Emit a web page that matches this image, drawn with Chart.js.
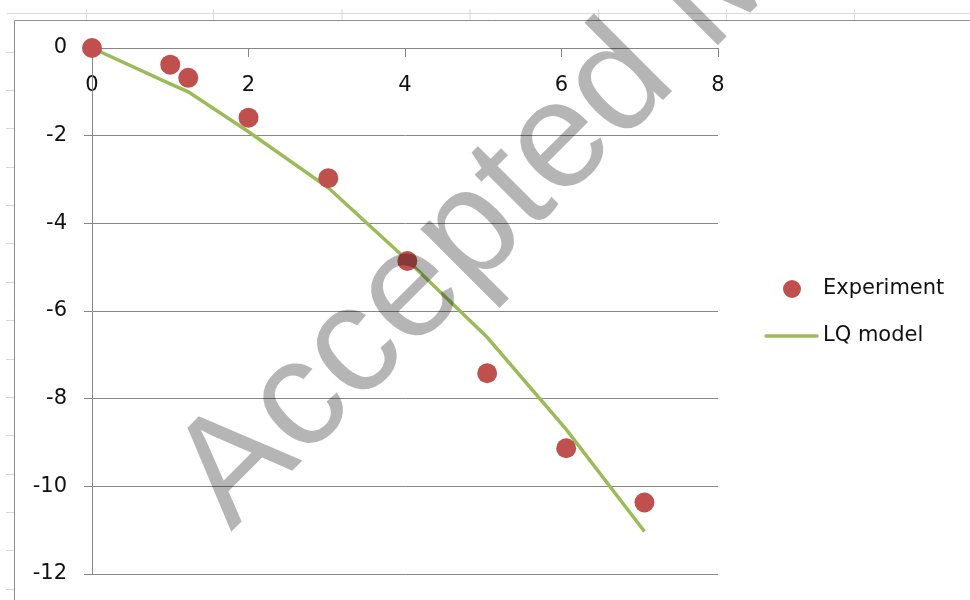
<!DOCTYPE html>
<html>
<head>
<meta charset="utf-8">
<script src="https://cdn.jsdelivr.net/npm/chart.js@4"></script>
<style>
  html, body { margin: 0; padding: 0; background: #fff; }
  #wrap { width: 970px; height: 600px; }
</style>
</head>
<body>
<div id="wrap"><canvas id="chart" width="970" height="600"></canvas></div>
<script>
// --- Data ---
const expX   = [0, 1.0, 1.23, 2.0, 3.02, 4.03, 5.05, 6.06, 7.06];
const expY   = [0, -0.38, -0.68, -1.59, -2.97, -4.86, -7.42, -9.13, -10.37];
const modelX = [0, 1.0, 1.23, 2.0, 3.02, 4.03, 5.05, 6.06, 7.06];
const modelY = [0, -0.82, -1.0, -1.91, -3.19, -4.84, -6.6, -8.7, -11.03];
const seriesNames = ['Experiment', 'LQ model'];
const xTicks = [0, 2, 4, 6, 8];
const yTicks = [0, -2, -4, -6, -8, -10, -12];

const RED = '#C0504D';
const GREEN = '#9BBB59';
const GRID = '#868686';
const FONT = '"DejaVu Sans", sans-serif';

const toPoints = (xs, ys) => xs.map((x, i) => ({ x: x, y: ys[i] }));

// spreadsheet frame behind the chart (screenshot edges)
const framePlugin = {
    id: 'frame',
    beforeDraw(chart) {
        const ctx = chart.ctx;
        ctx.save();
        ctx.fillStyle = '#fff';
        ctx.fillRect(0, 0, chart.width, chart.height);
        ctx.strokeStyle = '#d9d9d9';
        ctx.lineWidth = 1;
        ctx.beginPath();
        ctx.moveTo(7, 13.5); ctx.lineTo(chart.width, 13.5);
        [86, 213, 341.5, 469.5, 598, 726, 854].forEach(x => {
            ctx.moveTo(x + 0.5, 9); ctx.lineTo(x + 0.5, 20);
        });
        for (let y = 51.7; y < chart.height; y += 38.35) {
            ctx.moveTo(6, Math.round(y) + 0.5); ctx.lineTo(15, Math.round(y) + 0.5);
        }
        ctx.stroke();
        ctx.strokeStyle = '#8f8f8f';
        ctx.beginPath();
        ctx.moveTo(14.5, chart.height); ctx.lineTo(14.5, 20.5); ctx.lineTo(chart.width, 20.5);
        ctx.stroke();
        ctx.restore();
    }
};

// legend to the right of the plot, built from dataset styles
const legendPlugin = {
    id: 'sideLegend',
    afterDraw(chart) {
        const ctx = chart.ctx;
        const ds = chart.data.datasets;
        ctx.save();
        ctx.font = '21px ' + FONT;
        ctx.textBaseline = 'middle';
        ctx.textAlign = 'left';
        // Experiment
        ctx.beginPath();
        ctx.arc(792, 289, 9, 0, Math.PI * 2);
        ctx.fillStyle = ds[0].backgroundColor;
        ctx.fill();
        ctx.fillStyle = '#111';
        ctx.fillText(ds[0].label, 823, 289);
        // LQ model
        ctx.strokeStyle = ds[1].borderColor;
        ctx.lineWidth = ds[1].borderWidth;
        ctx.lineCap = 'round';
        ctx.beginPath();
        ctx.moveTo(766, 336); ctx.lineTo(817, 336);
        ctx.stroke();
        ctx.fillText(ds[1].label, 823, 336);
        ctx.restore();
    }
};

// "Accepted Manuscript" stamp over everything
const stampPlugin = {
    id: 'stamp',
    afterDraw(chart) {
        const ctx = chart.ctx;
        ctx.save();
        ctx.translate(231, 532);
        ctx.rotate(-45 * Math.PI / 180);
        ctx.font = '152px "Liberation Sans", Arial, sans-serif';
        ctx.fillStyle = 'rgba(0,0,0,0.29)';
        ctx.textBaseline = 'alphabetic';
        ctx.fillText('Accepted Manuscript', 0, 0);
        ctx.restore();
    }
};

new Chart(document.getElementById('chart'), {
    type: 'scatter',
    data: {
        datasets: [{
            label: seriesNames[0],
            data: toPoints(expX, expY),
            backgroundColor: RED,
            borderWidth: 0,
            pointRadius: 10,
            pointHoverRadius: 10,
            clip: false
        }, {
            type: 'line',
            label: seriesNames[1],
            data: toPoints(modelX, modelY),
            borderColor: GREEN,
            borderWidth: 3.5,
            pointRadius: 0,
            tension: 0,
            fill: false,
            clip: false
        }]
    },
    options: {
        responsive: false,
        animation: false,
        layout: { padding: { left: 0, top: 48, right: 252, bottom: 26 } },
        plugins: {
            legend: { display: false },
            tooltip: { enabled: false }
        },
        scales: {
            x: {
                type: 'linear',
                min: 0, max: 8,
                position: { y: 0 },
                afterFit: s => { s.height = 0; },
                afterBuildTicks: s => { s.ticks = xTicks.map(v => ({ value: v })); },
                ticks: { color: '#111', font: { family: FONT, size: 21 }, padding: 17 },
                grid: { drawOnChartArea: false, color: GRID, tickColor: GRID, tickLength: 8 },
                border: { color: GRID }
            },
            y: {
                type: 'linear',
                min: -12, max: 0,
                position: 'left',
                afterFit: s => { s.width = 92; s.paddingTop = 0; s.paddingBottom = 0; },
                afterBuildTicks: s => { s.ticks = yTicks.map(v => ({ value: v })); },
                ticks: { color: '#111', font: { family: FONT, size: 21 }, padding: 17 },
                grid: { color: GRID, tickColor: GRID, tickLength: 8 },
                border: { color: GRID }
            }
        }
    },
    plugins: [framePlugin, legendPlugin, stampPlugin]
});
</script>
</body>
</html>
